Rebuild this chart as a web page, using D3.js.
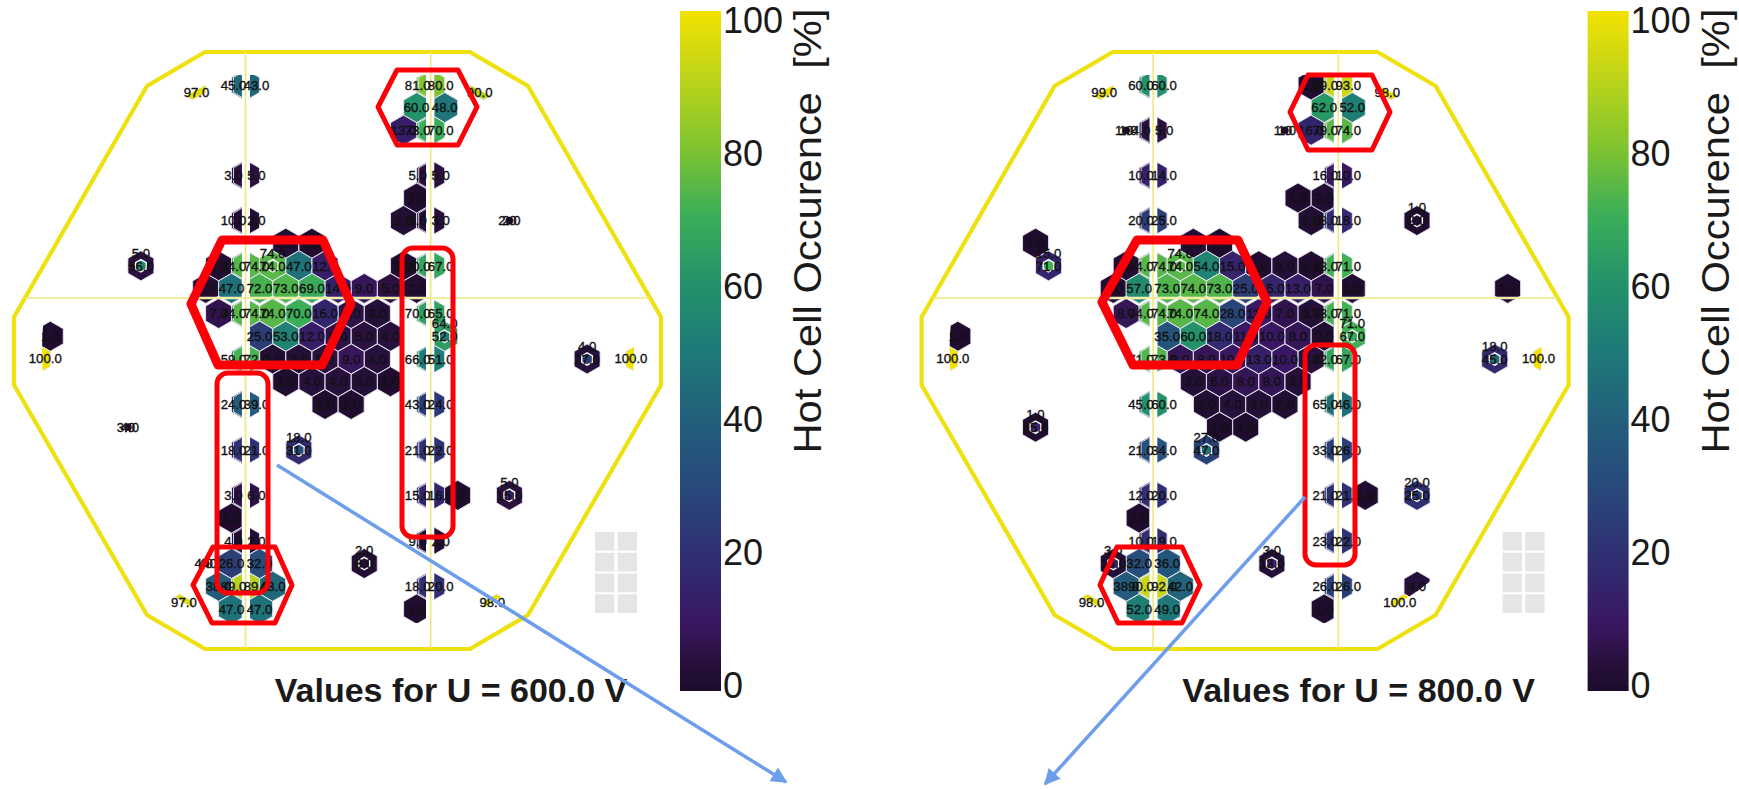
<!DOCTYPE html>
<html><head><meta charset="utf-8">
<style>html,body{margin:0;padding:0;background:#fff}svg{display:block}text{font-family:"Liberation Sans",Arial,sans-serif}</style>
<script src="https://cdn.jsdelivr.net/npm/d3@7"></script>
</head><body><svg id="c" width="1739" height="789"></svg>
<script>
// [half-column index, row index, value]
const hex600 = [
[-4.5,9,97],[-0.5,9,45],[0.5,9,43],[14.5,9,81],[15.5,9,80],[19.5,9,90],
[13.5,8,60],[16.5,8,48],
[12.5,7,13],[14.5,7,73],[15.5,7,70],
[-0.5,5,3],[0.5,5,5],[14.5,5,5],[15.5,5,5],
[13.5,4,1],
[-0.5,3,10],[0.5,3,2],[12.5,3,2],[14.5,3,5],[15.5,3,3],
[3.5,2,3],[5.5,2,1],
[-2.5,1,2],[-0.5,1,74],[0.5,1,74],[4.5,1,47],[6.5,1,12],[12.5,1,1],[14.5,1,70],[15.5,1,67],
[-3.5,0,2],[-1.5,0,47],[1.5,0,72],[3.5,0,73],[5.5,0,69],[7.5,0,14],[9.5,0,9],[11.5,0,5],[13.5,0,2],
[-2.5,-1,7],[-0.5,-1,74],[0.5,-1,74],[2.5,-1,74],[4.5,-1,70],[6.5,-1,16],[8.5,-1,6],[10.5,-1,3],[14.5,-1,70],[15.5,-1,65],
[-15.5,-2,1],[1.5,-2,25],[3.5,-2,53],[5.5,-2,12],[7.5,-2,6],[9.5,-2,5],[11.5,-2,4],
[-16.5,-3,100],[-0.5,-3,59],[0.5,-3,72],[2.5,-3,2],[4.5,-3,3],[6.5,-3,5],[8.5,-3,9],[10.5,-3,4],[14.5,-3,66],[15.5,-3,51],[31.5,-3,100],
[3.5,-4,1],[5.5,-4,4],[7.5,-4,4],[9.5,-4,3],[11.5,-4,1],
[-0.5,-5,24],[0.5,-5,39],[6.5,-5,1],[8.5,-5,1],[14.5,-5,43],[15.5,-5,24],
[-0.5,-7,18],[0.5,-7,21],[14.5,-7,21],[15.5,-7,22],
[-0.5,-9,3],[0.5,-9,6],[14.5,-9,15],[15.5,-9,16],[17.5,-9,1],
[-1.5,-10,1],
[-0.5,-11,4],[0.5,-11,2],[14.5,-11,9],[15.5,-11,2],
[-1.5,-12,26],[1.5,-12,32],
[-2.5,-13,38],[-0.5,-13,89],[0.5,-13,89],[2.5,-13,43],[14.5,-13,18],[15.5,-13,20],
[-5.5,-14,97],[-1.5,-14,47],[1.5,-14,47],[13.5,-14,1],[20.5,-14,98]
];
// [half-column index, row index, outer value, inner value]
const ring600 = [
[-8.5,1,5,56],[2.5,1,74,74],[16.5,-2,64,52],[27.5,-3,4,27],[4.5,-7,18,31],[21.5,-9,5,15],[9.5,-12,2,3]
];
const dot600 = [[-9.5,-6,3,4],[21.5,3,2,2],[-3.5,-12,4,4]];

const hex800 = [
[-4.5,9,99],[-0.5,9,60],[0.5,9,60],[12.5,9,1],[14.5,9,89],[15.5,9,93],[19.5,9,98],
[13.5,8,62],[16.5,8,52],
[-0.5,7,4],[0.5,7,5],[12.5,7,16],[14.5,7,79],[15.5,7,74],
[-0.5,5,10],[0.5,5,14],[14.5,5,16],[15.5,5,10],
[11.5,4,1],[13.5,4,2],
[-0.5,3,20],[0.5,3,25],[12.5,3,2],[14.5,3,28],[15.5,3,18],
[-9.5,2,1],[3.5,2,3],[5.5,2,1],
[-2.5,1,2],[-0.5,1,74],[0.5,1,74],[4.5,1,54],[6.5,1,15],[8.5,1,1],[10.5,1,3],[12.5,1,1],[14.5,1,73],[15.5,1,71],
[-3.5,0,2],[-1.5,0,57],[1.5,0,73],[3.5,0,74],[5.5,0,73],[7.5,0,25],[9.5,0,15],[11.5,0,13],[13.5,0,7],[16.5,0,1],[28.5,0,1],
[-2.5,-1,8],[-0.5,-1,74],[0.5,-1,74],[2.5,-1,74],[4.5,-1,74],[6.5,-1,28],[8.5,-1,11],[10.5,-1,7],[12.5,-1,3],[14.5,-1,73],[15.5,-1,71],
[-15.5,-2,1],[1.5,-2,35],[3.5,-2,60],[5.5,-2,18],[7.5,-2,11],[9.5,-2,10],[11.5,-2,8],[13.5,-2,2],
[-16.5,-3,100],[-0.5,-3,71],[0.5,-3,73],[2.5,-3,8],[4.5,-3,8],[6.5,-3,10],[8.5,-3,13],[10.5,-3,10],[12.5,-3,4],[14.5,-3,72],[15.5,-3,67],[31.5,-3,100],
[3.5,-4,3],[5.5,-4,6],[7.5,-4,8],[9.5,-4,8],[11.5,-4,3],
[-0.5,-5,45],[0.5,-5,60],[4.5,-5,2],[6.5,-5,4],[8.5,-5,3],[10.5,-5,2],[14.5,-5,65],[15.5,-5,46],
[5.5,-6,1],[7.5,-6,1],
[-0.5,-7,21],[0.5,-7,34],[14.5,-7,33],[15.5,-7,26],
[-0.5,-9,12],[0.5,-9,20],[14.5,-9,21],[15.5,-9,21],[17.5,-9,1],
[-1.5,-10,1],
[-0.5,-11,10],[0.5,-11,19],[14.5,-11,23],[15.5,-11,22],
[-1.5,-12,32],[1.5,-12,36],
[-2.5,-13,38],[-0.5,-13,90],[0.5,-13,92],[2.5,-13,42],[14.5,-13,26],[15.5,-13,26],[21.5,-13,4],
[-5.5,-14,98],[-1.5,-14,52],[1.5,-14,49],[13.5,-14,1],[20.5,-14,100]
];
const ring800 = [
[-8.5,1,15,71],[2.5,1,74,74],[21.5,3,1,2],[16.5,-2,71,67],[27.5,-3,18,45],[-9.5,-6,1,15],[4.5,-7,27,47],[21.5,-9,20,25],[-3.5,-12,3,16],[9.5,-12,3,13]
];
const dot800 = [[-2.5,7,1,1],[10.5,7,1,1]];

const panelTitles = ["Values for U = 600.0 V","Values for U = 800.0 V"];
const colorbarTicks = [0,20,40,60,80,100];
const colorbarTitle = "Hot Cell Occurence  [%]";
const colorStops = [0,5,10,20,30,40,50,60,70,80,90,100];
const colorValues = ["#1c0b2b","#2a1140","#3a1763","#2f2f72","#28497b","#225f7b","#1e7a78","#23926a","#3bae58","#80c42f","#bcd41a","#f2e200"];
const greyCols = [0,1], greyRows = [0,1,2,3];

const octagon = [[205,52],[470,52],[528,86],[661,317],[661,385],[528,615],[470,649],[205,649],[147,615],[14,385],[14,317],[147,86]];
const redHex = [
 {w:9,p:[[222,240],[323,240],[351,304],[322,365],[218,365],[191,304]]},
 {w:5,p:[[397,70],[458,70],[477,107],[458,145],[397,145],[378,107]]},
 {w:5,p:[[213,547],[275,547],[292,585],[275,623],[212,623],[193,585]]}
];
const redHexB = [
 {w:9,p:[[1137,240],[1238,240],[1267,302],[1237,365],[1133,365],[1102,302]]},
 {w:5,p:[[1308,75],[1372,75],[1390,112],[1372,150],[1308,150],[1290,112]]},
 {w:5,p:[[1117,547],[1182,547],[1200,585],[1182,623],[1118,623],[1100,585]]}
];
const redRect = [[402,248,453,537],[217,373,268,593],[1305,345,1355,565]];
const arrows = [[277,465,786,782],[1305,497,1045,784]];

const svg = d3.select("#c");
const color = d3.scaleLinear().domain(colorStops).range(colorValues).clamp(true);

const R = 15, P = 12.95, G = 1, L1 = 245.5, L2 = 430.7;
const x = d3.scaleLinear().domain([-17.5,-0.5,0.5,14.5,15.5,32.5])
  .range([L1-G-17*P, L1-G, L1+G, L2-G, L2+G, L2+G+17*P]);
const y = d3.scaleLinear().domain([-14,-1,0,9]).range([609,313.5,288.4,85]);
const hexPath = (r)=> d3.line()(d3.range(6).map(i=>{const a=Math.PI/3*i;return [r*Math.sin(a),-r*Math.cos(a)];}))+"Z";
const disc = {x:338,y:350,r:296};

const defs = svg.append("defs");
const cp = defs.append("clipPath").attr("id","cells");
const xBands = [[0,241.7],[250,426],[434.5,700]], yBands = [[75,296.7],[299.3,623]];
xBands.forEach(a=>yBands.forEach(b=>cp.append("rect").attr("x",a[0]).attr("y",b[0]).attr("width",a[1]-a[0]).attr("height",b[1]-b[0])));
defs.append("clipPath").attr("id","disc").append("circle").attr("cx",disc.x).attr("cy",disc.y).attr("r",disc.r);

const onLine = h => h===-0.5||h===0.5||h===14.5||h===15.5;
const lineLabelX = h => h===-0.5?L1-12:h===0.5?L1+11:h===14.5?L2-13:L2+10;
function labelPos(h,r){
  let lx = onLine(h)?lineLabelX(h):x(h), ly = y(r);
  const dx=disc.x-x(h), dy=disc.y-y(r), d=Math.hypot(dx,dy);
  if(d>disc.r){lx+=dx/d*8; ly+=dy/d*8;}
  return [lx,ly];
}

function panel(off,hexes,rings,dots,title){
  const g = svg.append("g").attr("transform",`translate(${off},0)`);
  g.append("polygon").attr("points",octagon.join(" ")).attr("fill","none").attr("stroke","#efe010").attr("stroke-width",4.2).attr("stroke-linejoin","miter");
  const lineCol="#efe87c";
  g.append("line").attr("x1",25).attr("x2",650).attr("y1",298).attr("y2",298).attr("stroke",lineCol).attr("stroke-width",1.6);
  [L1,L2].forEach(v=>g.append("line").attr("x1",v).attr("x2",v).attr("y1",52).attr("y2",649).attr("stroke",lineCol).attr("stroke-width",1.6));

  const outer = g.append("g").attr("clip-path","url(#disc)").append("g").attr("clip-path","url(#cells)");
  const at = d=>`translate(${x(d[0])},${y(d[1])})`;
  outer.selectAll("path.h").data(hexes).join("path").attr("class","h")
    .attr("d",hexPath(R)).attr("transform",at).attr("fill",d=>color(d[2])).attr("stroke","#e9e4f0").attr("stroke-width",0.9);
  const rg = outer.selectAll("g.r").data(rings).join("g").attr("class","r").attr("transform",at);
  rg.append("path").attr("d",hexPath(R)).attr("fill",d=>color(d[2])).attr("stroke","#e9e4f0").attr("stroke-width",0.9);
  rg.append("path").attr("d",hexPath(7)).attr("fill","#fff");
  rg.append("path").attr("d",hexPath(5.4)).attr("fill",d=>color(d[3]));
  outer.selectAll("circle.d").data(dots).join("circle").attr("class","d")
    .attr("cx",d=>x(d[0])).attr("cy",d=>y(d[1])).attr("r",3.8).attr("fill",d=>color(d[2]));

  const tg = g.append("g").attr("font-size",13.2).attr("font-weight",400).attr("fill","#111").attr("stroke","#111").attr("stroke-width",0.35).attr("text-anchor","middle");
  const lab=(px,py,v)=>tg.append("text").attr("x",px).attr("y",py).attr("dy","0.36em").text(d3.format(".1f")(v));
  hexes.forEach(d=>{const p=labelPos(d[0],d[1]);lab(p[0],p[1],d[2]);});
  rings.forEach(d=>{lab(x(d[0]),y(d[1])-13,d[2]);lab(x(d[0]),y(d[1]),d[3]);});
  dots.forEach(d=>{lab(x(d[0])-2,y(d[1]),d[2]);lab(x(d[0])+2,y(d[1]),d[3]);});

  // inactive module blocks
  const gx=d3.scaleBand().domain(greyCols).range([595,637]).paddingInner(0.14);
  const gy=d3.scaleBand().domain(greyRows).range([532,613]).paddingInner(0.1);
  greyCols.forEach(a=>greyRows.forEach(b=>g.append("rect").attr("x",gx(a)).attr("y",gy(b)).attr("width",gx.bandwidth()).attr("height",gy.bandwidth()).attr("fill","#e5e5e5")));

  g.append("text").attr("x",451).attr("y",702).attr("text-anchor","middle").attr("font-weight",700).attr("font-size",34).attr("fill","#1a1a1a").text(title);

  // colorbar
  const cb = g.append("g");
  const barY=d3.scaleLinear().domain([0,100]).range([691,11]);
  const gid="grad"+off;
  const lg=defs.append("linearGradient").attr("id",gid).attr("x1",0).attr("x2",0).attr("y1",1).attr("y2",0);
  colorStops.forEach((s,i)=>lg.append("stop").attr("offset",s/100).attr("stop-color",colorValues[i]));
  cb.append("rect").attr("x",680).attr("width",41).attr("y",barY(100)).attr("height",barY(0)-barY(100)).attr("fill",`url(#${gid})`);
  const tickY=d3.scaleLinear().domain([0,100]).range([686,21]);
  const ax=cb.append("g").attr("transform","translate(721,0)").call(d3.axisRight(tickY).tickValues(colorbarTicks).tickSize(0).tickPadding(2).tickFormat(d3.format("d")));
  ax.select(".domain").remove();
  ax.selectAll("text").attr("font-size",36).attr("fill","#1a1a1a").style("font-family",'"Liberation Sans",Arial,sans-serif');
  cb.append("text").attr("transform","translate(821,231) rotate(-90)").attr("text-anchor","middle").attr("font-size",38).attr("fill","#1a1a1a")
    .attr("textLength",445).attr("lengthAdjust","spacingAndGlyphs").attr("xml:space","preserve").text(colorbarTitle);
}
panel(0,hex600,ring600,dot600,panelTitles[0]);
panel(907.6,hex800,ring800,dot800,panelTitles[1]);

// annotations
const ann=svg.append("g").attr("fill","none").attr("stroke","#fb0007").attr("stroke-linejoin","round");
redHex.concat(redHexB).forEach(o=>ann.append("polygon").attr("points",o.p.join(" ")).attr("stroke-width",o.w));
redRect.forEach(r=>ann.append("rect").attr("x",r[0]).attr("y",r[1]).attr("width",r[2]-r[0]).attr("height",r[3]-r[1]).attr("rx",11).attr("stroke-width",5));
const blue="#6d9eeb";
defs.append("marker").attr("id","ah").attr("markerUnits","userSpaceOnUse").attr("viewBox","0 0 10 10").attr("refX",9).attr("refY",5).attr("markerWidth",22).attr("markerHeight",16).attr("orient","auto")
  .append("path").attr("d","M0,0L10,5L0,10Z").attr("fill",blue);
arrows.forEach(a=>svg.append("line").attr("x1",a[0]).attr("y1",a[1]).attr("x2",a[2]).attr("y2",a[3]).attr("stroke",blue).attr("stroke-width",3.5).attr("marker-end","url(#ah)"));
</script></body></html>
